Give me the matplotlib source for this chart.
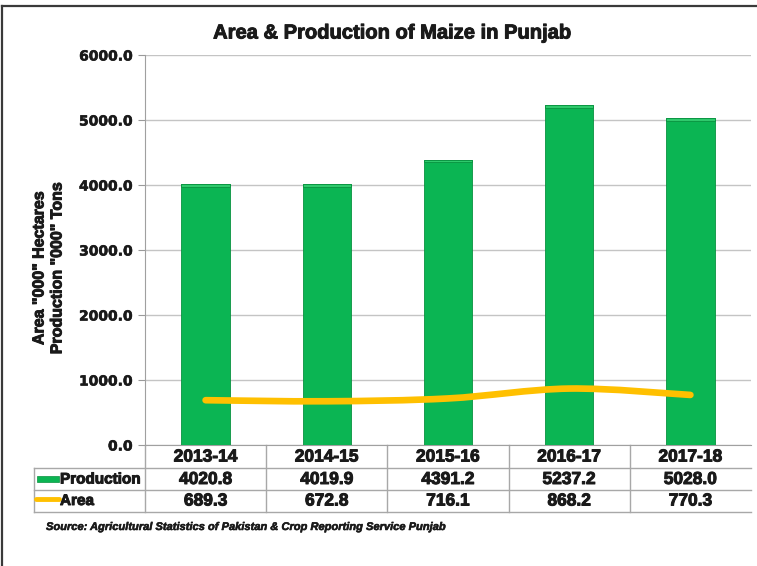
import numpy as np
import matplotlib.pyplot as plt
import matplotlib.patheffects as pe
from matplotlib.path import Path
from matplotlib.patches import PathPatch
from matplotlib.lines import Line2D
from matplotlib.transforms import blended_transform_factory

years = ['2013-14', '2014-15', '2015-16', '2016-17', '2017-18']
production = [4020.8, 4019.9, 4391.2, 5237.2, 5028.0]
area = [689.3, 672.8, 716.1, 868.2, 770.3]
row_names = ['Production', 'Area']

W, H = 757, 566
GREEN = '#0bb553'
GOLD = '#ffc000'
GRID = '#c4c4c4'
INK = '#1a1a1a'
FONT = 'Liberation Sans'
heavy = [pe.withStroke(linewidth=0.7, foreground=INK)]


def fx(px):
    return px / W


def fy(py):
    return 1 - py / H


fig = plt.figure(figsize=(W / 100, H / 100), dpi=100)
ax = fig.add_axes([fx(145), fy(445), fx(751) - fx(145), fy(55) - fy(445)])

x = np.arange(len(years))
ax.bar(x, production, width=0.4, color=GREEN, edgecolor='#08923f', lw=0.6, zorder=3)
# lighter bevel on top of each bar
cap = 45
ax.bar(x, [cap] * len(x), bottom=np.array(production) - cap, width=0.4,
       color='#2fc96c', edgecolor='#08923f', lw=0.6, zorder=4)

# smooth line like excel (bezier through the data points)
pts = np.column_stack([x, area])
verts = [pts[0]]
codes = [Path.MOVETO]
for i in range(len(pts) - 1):
    p0 = pts[i - 1] if i > 0 else pts[i]
    p3 = pts[i + 2] if i + 2 < len(pts) else pts[i + 1]
    c1 = pts[i] + (pts[i + 1] - p0) / 6
    c2 = pts[i + 1] - (p3 - pts[i]) / 6
    verts += [c1, c2, pts[i + 1]]
    codes += [Path.CURVE4] * 3
ax.add_patch(PathPatch(Path(verts, codes), fill=False, edgecolor=GOLD, lw=4.8,
                       capstyle='round', joinstyle='round', zorder=5))

ax.set_xlim(-0.5, len(years) - 0.5)
ax.set_ylim(0, 6000)
ax.set_yticks(np.arange(0, 6001, 1000))
ax.set_yticklabels(['%.1f' % v for v in np.arange(0, 6001, 1000)],
                   fontsize=10, fontweight='bold', color=INK)
for lab in ax.get_yticklabels():
    lab.set_path_effects([pe.withStroke(linewidth=0.4, foreground=INK)])
ax.set_xticks([])
ax.tick_params(axis='y', length=5, color='#9a9a9a', pad=4)
ax.grid(axis='y', color=GRID, lw=1, zorder=0)
for s in ['top', 'right']:
    ax.spines[s].set_visible(False)
ax.spines['left'].set_color('#a0a0a0')
ax.spines['bottom'].set_color('#a0a0a0')

fig.text(fx(392), fy(33), 'Area & Production of Maize in Punjab',
         ha='center', va='center', fontsize=14.5, fontweight='bold',
         family=FONT, color=INK, path_effects=heavy)

fig.text(fx(39), fy(268), 'Area "000" Hectares', rotation=90, ha='center', va='center',
         fontsize=11.5, fontweight='bold', family=FONT, color=INK, path_effects=heavy)
fig.text(fx(57), fy(268), 'Production "000" Tons', rotation=90, ha='center', va='center',
         fontsize=11.5, fontweight='bold', family=FONT, color=INK, path_effects=heavy)

# data table under the axis
tr = blended_transform_factory(ax.transData, fig.transFigure)
line_kw = dict(color='#a8a8a8', lw=1, clip_on=False)
rows_y = [445, 468, 490, 512]
for k in range(1, len(years)):
    ax.add_line(Line2D([k - 0.5, k - 0.5], [fy(445), fy(512)], transform=tr, **line_kw))
ax.add_line(Line2D([-0.5, -0.5], [fy(445), fy(512)], transform=tr, **line_kw))
for ry in rows_y[1:]:
    fig.add_artist(Line2D([fx(34), fx(751)], [fy(ry), fy(ry)], **line_kw))
fig.add_artist(Line2D([fx(34), fx(34)], [fy(468), fy(512)], **line_kw))

tfont = dict(fontsize=12.5, fontweight='bold', family=FONT, color=INK,
             va='center', ha='center', path_effects=heavy)
for i, yr in enumerate(years):
    ax.text(i, fy(457), yr, transform=tr, **tfont)
    ax.text(i, fy(479.5), '%.1f' % production[i], transform=tr, **tfont)
    ax.text(i, fy(501), '%.1f' % area[i], transform=tr, **tfont)

fig.text(fx(60), fy(479.5), row_names[0], fontsize=11, fontweight='bold',
         family=FONT, va='center', ha='left', color=INK, path_effects=heavy)
fig.text(fx(60), fy(501), row_names[1], fontsize=11, fontweight='bold',
         family=FONT, va='center', ha='left', color=INK, path_effects=heavy)
fig.add_artist(plt.Rectangle((fx(37), fy(482)), fx(22), fy(476) - fy(482),
                             facecolor=GREEN, edgecolor='#08923f', lw=0.5))
fig.add_artist(Line2D([fx(36), fx(59)], [fy(499), fy(499)], color=GOLD, lw=3.5,
                      solid_capstyle='round'))

fig.text(fx(46), fy(527), 'Source: Agricultural Statistics of Pakistan & Crop Reporting Service Punjab',
         fontsize=8, fontweight='bold', style='italic', va='center', ha='left',
         family=FONT, color=INK, path_effects=[pe.withStroke(linewidth=0.4, foreground=INK)])

# outer frame (top and left edges visible)
fig.add_artist(Line2D([fx(2), fx(757)], [fy(6), fy(6)], color='#3a3a3a', lw=1.6))
fig.add_artist(Line2D([fx(2), fx(2)], [fy(6), fy(566)], color='#3a3a3a', lw=1.6))

fig.savefig('out.png', dpi=100)
